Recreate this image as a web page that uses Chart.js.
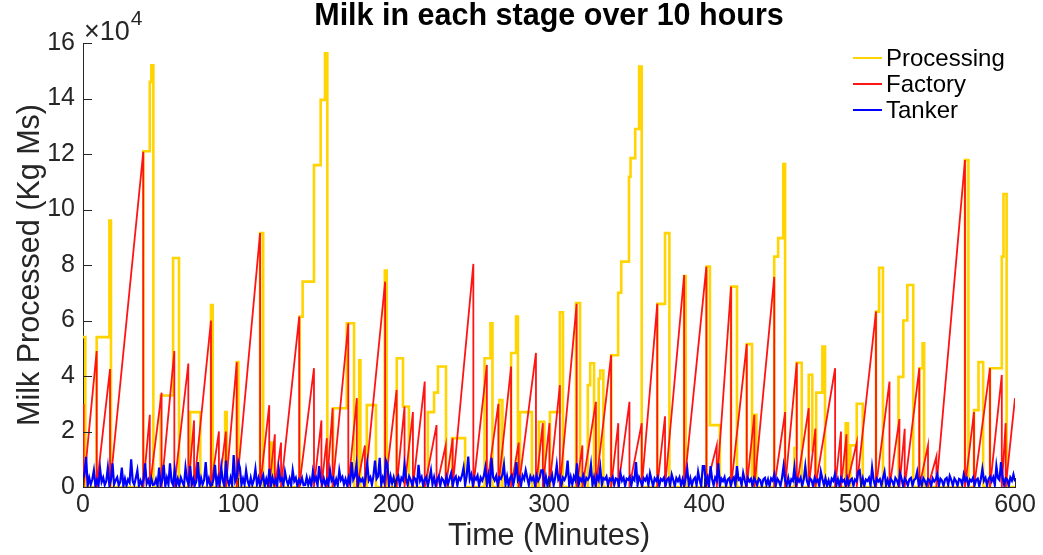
<!DOCTYPE html>
<html>
<head>
<meta charset="utf-8">
<title>Milk in each stage over 10 hours</title>
<script src="https://cdn.jsdelivr.net/npm/chart.js@4.4.1/dist/chart.umd.min.js"></script>
<style>
  html, body { margin: 0; padding: 0; background: #fff; }
  #wrap { width: 1043px; height: 555px; }
</style>
</head>
<body>
<div id="wrap"><canvas id="milkChart"></canvas></div>
<script>
// Text
const chartTitle = 'Milk in each stage over 10 hours';
const xTitle = 'Time (Minutes)';
const yTitle = 'Milk Processed (Kg Ms)';
const seriesNames = ['Processing', 'Factory', 'Tanker'];
const seriesColors = ['#FFD400', '#FF1414', '#0000FF'];

// Tick values
const xTicks = [0, 100, 200, 300, 400, 500, 600];
const yTicks = [0, 20000, 40000, 60000, 80000, 100000, 120000, 140000, 160000];

// Processing: step changes (minute, kg held from that minute on)
const processingT = [
  0, 1.5,
  8.8, 17, 18,
  38.8, 43, 44, 45.3,
  50, 58, 61.8,
  69, 75.5,
  82.4, 83.5,
  91.5, 92.5,
  99, 100,
  114, 116,
  121, 122.5,
  139.5, 141.4, 148.7, 153, 155.8, 157.3,
  161, 169.8, 174.5,
  177.8, 178.6,
  182.7, 188.6,
  194.3, 195.5,
  202, 206, 209.8,
  222, 226, 228.5, 233.7,
  237.6, 246,
  258.5, 262.3, 263.6,
  268, 270,
  275.6, 278.8, 280,
  281.3, 289,
  293.5, 297,
  300.6, 307, 309,
  317.4, 320,
  325, 326.5, 329,
  332, 333, 335,
  340, 344.5, 346.5, 351.5, 352.5, 355.5, 358, 359.7,
  369.7, 374.7, 377.5,
  387, 388,
  401.5, 403.6, 410,
  417.2, 421,
  427.3, 430.7,
  432.2, 433.5,
  445, 447.5, 450.8, 452,
  458, 459.5, 462.7,
  467.2, 469.5, 471.5,
  472, 476, 477.7,
  491, 492.5,
  494, 498.1, 502,
  510.5, 512.5, 515,
  525, 528.1, 530.7, 534.5,
  538.4, 540.5, 541.5,
  567.8, 570,
  573.6, 576.5, 579.5,
  583.9, 591.5, 592.6, 594.6,
  600
];
const processingV = [
  54000, 0,
  54000, 96000, 0,
  121000, 146000, 152000, 0,
  33000, 82500, 0,
  27000, 0,
  65600, 0,
  27000, 0,
  45000, 0,
  91500, 0,
  16000, 0,
  61400, 74000, 116000, 139500, 156300, 0,
  28400, 59000, 0,
  45700, 0,
  29500, 0,
  78000, 0,
  46400, 29000, 0,
  27000, 34000, 43400, 0,
  17600, 0,
  46400, 59000, 0,
  31300, 0,
  48300, 61400, 0,
  27000, 0,
  23500, 0,
  27000, 63000, 0,
  66300, 0,
  36700, 44600, 0,
  39000, 42000, 0,
  47500, 70000, 81200, 111800, 118500, 129000, 151500, 0,
  66000, 91500, 0,
  76000, 0,
  79400, 22300, 0,
  72200, 0,
  51500, 0,
  26000, 0,
  83000, 89700, 116400, 0,
  14000, 44800, 0,
  40400, 13300, 0,
  34000, 50600, 0,
  23000, 0,
  15000, 30000, 0,
  63200, 79000, 0,
  39700, 60000, 72800, 0,
  42800, 51800, 0,
  117800, 0,
  27700, 45000, 0,
  42800, 83000, 105600, 0,
  0
];

// Factory: minute at which each fill peaks, and the peak (emptied right after)
const factoryT = [
  0.4, 8.8, 17.4, 38.8, 43, 50.6, 58.8, 67.8, 71.5, 82.4,
  87.5, 92, 99, 114, 119.9, 123.5, 127.5, 139.2, 148.7, 153.5,
  157, 160.7, 170.8, 176.3, 181.5, 194.5, 201.9, 207, 212.4, 220,
  227.6, 233.5, 238, 251.3, 260, 267.4, 275.6, 280.5, 291.6, 296,
  300.3, 307, 317.8, 321.5, 330.2, 340, 344.6, 351.8, 359.7, 369.7,
  374.7, 387, 401.3, 408, 417.2, 427.3, 432.2, 445, 452, 459.5,
  467.2, 471.5, 484.2, 488, 491.5, 498.1, 510.5, 519.2, 525.6, 529,
  538.4, 544, 549.4, 567.8, 573.6, 583.9, 591.5, 594, 600
];
const factoryV = [
  30000, 49000, 42500, 120800, 26000, 34000, 49000, 44500, 24000, 60000,
  20000, 20000, 45000, 91500, 29500, 19000, 16000, 61400, 42800, 24000,
  17600, 28400, 59000, 32000, 15000, 74000, 35000, 29000, 27000, 38000,
  22300, 15000, 17600, 80400, 44000, 30000, 43400, 16000, 48300, 23000,
  23000, 36700, 66000, 15000, 30700, 47500, 23000, 30700, 23000, 66000,
  25500, 76400, 79400, 15000, 72200, 51500, 26000, 75700, 27000, 44800,
  28400, 21000, 42800, 20000, 19000, 16000, 63200, 38000, 24500, 21000,
  42800, 15000, 11000, 117800, 27000, 42800, 40400, 23000, 32000
];

// Tanker: one reading per minute, minutes 0..600
const tankerV = [
  2600, 5200, 10900, 400, 3300, 900, 2800, 6000, 300, 2500, 600, 6500, 1800, 3400, 700, 2200, 7000, 500, 2600, 8500,
  900, 2400, 3500, 600, 1900, 7000, 300, 3000, 500, 2700, 1600, 10000, 2100, 800, 3200, 6000, 400, 2300, 700, 2900,
  8500, 1200, 2600, 500, 3100, 700, 900, 2800, 400, 7000, 600, 2400, 8000, 300, 3300, 900, 8500, 2000, 700, 6000,
  500, 2900, 600, 3400, 1800, 400, 7000, 2500, 800, 7500, 700, 3000, 600, 2200, 9000, 400, 3200, 900, 2600, 9000,
  1100, 3100, 500, 700, 2800, 8000, 500, 3400, 900, 7000, 2300, 300, 9500, 2600, 800, 3300, 600, 11500, 2100, 3500,
  9000, 7000, 800, 3000, 900, 6000, 2200, 400, 3300, 700, 2600, 6500, 900, 3200, 500, 2500, 4200, 300, 2900, 800,
  6500, 600, 3400, 1100, 2700, 400, 6500, 2300, 3100, 500, 5500, 2500, 800, 3000, 600, 6000, 2100, 3300, 400, 2600,
  1400, 3200, 600, 700, 3500, 800, 2900, 400, 5500, 2200, 3400, 500, 7500, 2700, 900, 3100, 700, 2600, 800, 6000,
  2300, 3300, 500, 2800, 600, 6000, 2500, 3600, 900, 2900, 700, 3400, 1200, 9000, 2700, 3900, 8000, 500, 3200, 2100,
  3000, 600, 3700, 8500, 2400, 3500, 800, 4100, 9500, 2900, 3800, 10500, 700, 3400, 1600, 9500, 8000, 600, 3900, 1300,
  3500, 800, 2900, 4000, 500, 3300, 2400, 8000, 3100, 700, 3800, 2600, 400, 3400, 2900, 600, 8000, 2300, 3600, 500,
  2800, 3700, 400, 3000, 6000, 900, 3500, 500, 2700, 3900, 400, 3200, 2400, 700, 3600, 1000, 3100, 5000, 400, 2900,
  3800, 600, 3300, 2500, 4200, 7000, 800, 3900, 11000, 2800, 4500, 600, 3600, 2700, 4100, 500, 3400, 2300, 3900, 7000,
  900, 4300, 700, 10500, 3600, 2400, 4000, 600, 3500, 2900, 4400, 8000, 900, 3800, 500, 3300, 4200, 800, 3700, 9000,
  2400, 3500, 600, 4100, 2800, 6000, 3300, 700, 3900, 2500, 3600, 500, 4000, 2200, 3400, 6000, 6000, 800, 3700, 500,
  3200, 2300, 4300, 600, 3500, 8000, 2700, 3900, 500, 3400, 2600, 4100, 9500, 700, 3600, 900, 3800, 2400, 8500, 600,
  3100, 2200, 4000, 500, 3300, 2600, 3700, 8000, 700, 3500, 400, 3900, 2500, 7000, 800, 3200, 2700, 3800, 500, 3000,
  2400, 3600, 700, 3100, 2800, 500, 5000, 2300, 3400, 400, 3000, 2600, 3700, 600, 3300, 2500, 9000, 700, 3500, 2200,
  400, 3200, 2400, 3800, 600, 5000, 2600, 300, 3100, 2200, 3600, 500, 2900, 2300, 3400, 300, 2700, 3300, 600, 4500,
  2500, 300, 3200, 2100, 3500, 600, 2800, 400, 3300, 6500, 700, 3100, 500, 2700, 3400, 600, 5500, 2400, 300, 7500,
  7500, 800, 3300, 400, 7500, 2900, 600, 3400, 2300, 8500, 500, 3000, 2100, 3500, 300, 2700, 3200, 600, 2500, 3400,
  500, 7500, 2600, 3100, 600, 5000, 2400, 300, 3300, 2000, 2900, 400, 3200, 2200, 600, 3000, 2500, 300, 2800, 3300,
  700, 2700, 300, 3100, 2300, 4500, 500, 3000, 2100, 400, 3200, 7500, 2400, 600, 3300, 400, 2800, 2200, 7000, 500,
  3000, 2000, 3400, 400, 2700, 7500, 2300, 500, 3100, 2500, 300, 3300, 1900, 2600, 400, 5500, 2900, 700, 3200, 500,
  2400, 300, 3000, 2200, 4500, 600, 2800, 400, 3200, 2000, 2600, 300, 3100, 800, 2500, 3000, 400, 2700, 2100, 5500,
  6000, 700, 3100, 400, 2700, 2200, 3300, 500, 7000, 2400, 300, 3000, 2000, 2800, 500, 3200, 5500, 600, 2600, 300,
  3000, 2100, 500, 3300, 2400, 600, 5000, 2900, 300, 3100, 2200, 500, 2800, 3300, 400, 2500, 3000, 5500, 700, 2700,
  500, 3200, 2200, 600, 2900, 2400, 300, 3100, 2000, 2700, 4500, 500, 3000, 2300, 400, 2800, 3300, 700, 4000, 2500,
  500, 3100, 2200, 400, 2900, 2600, 700, 4500, 2300, 3200, 400, 2700, 2100, 3400, 600, 2500, 3000, 300, 2800, 6500,
  2200, 3300, 500, 2900, 3800, 2100, 3500, 700, 7500, 3200, 2500, 9000, 3600, 800, 3100, 2700, 400, 3400, 2300, 4500,
  2000
];

// Build point lists for the library
const processingPoints = processingT.map((t, i) => ({ x: t, y: processingV[i] }));

const factoryPoints = [{ x: 0, y: 0 }];
factoryT.forEach((t, i) => {
  factoryPoints.push({ x: t, y: factoryV[i] });
  if (i < factoryT.length - 1) factoryPoints.push({ x: t, y: 0 }); // tank emptied
});

const tankerPoints = tankerV.map((v, i) => ({ x: i, y: v }));

Chart.defaults.font.family = '"Liberation Sans", Arial, Helvetica, sans-serif';
Chart.defaults.color = '#262626';

// Inner tick marks, title, x10^4 factor and the legend
const decorations = {
  id: 'decorations',
  afterDraw(chart) {
    const { ctx, chartArea: a, scales: { x, y } } = chart;
    ctx.save();

    ctx.strokeStyle = '#262626';
    ctx.lineWidth = 1;
    ctx.beginPath();
    yTicks.forEach(v => {
      const py = Math.round(y.getPixelForValue(v)) + 0.5;
      ctx.moveTo(a.left, py);
      ctx.lineTo(a.left + 9, py);
    });
    xTicks.forEach(v => {
      const px = Math.round(x.getPixelForValue(v)) + 0.5;
      ctx.moveTo(px, a.bottom);
      ctx.lineTo(px, a.bottom - 9);
    });
    ctx.stroke();

    ctx.fillStyle = '#000';
    ctx.font = 'bold 30.5px "Liberation Sans", Arial, sans-serif';
    ctx.textAlign = 'center';
    ctx.textBaseline = 'middle';
    ctx.fillText(chartTitle, (a.left + a.right) / 2, 17);

    ctx.fillStyle = '#262626';
    ctx.textAlign = 'left';
    ctx.textBaseline = 'alphabetic';
    ctx.font = '27px "Liberation Sans", Arial, sans-serif';
    ctx.fillText('\u00D710', a.left + 1, 40);
    const w = ctx.measureText('\u00D710').width;
    ctx.font = '21px "Liberation Sans", Arial, sans-serif';
    ctx.fillText('4', a.left + 2 + w, 25);

    ctx.font = '24px "Liberation Sans", Arial, sans-serif';
    ctx.textBaseline = 'middle';
    chart.data.datasets.forEach((ds, i) => {
      const ly = 58 + i * 26;
      ctx.strokeStyle = ds.borderColor;
      ctx.lineWidth = 2;
      ctx.beginPath();
      ctx.moveTo(853, ly);
      ctx.lineTo(882, ly);
      ctx.stroke();
      ctx.fillStyle = '#000';
      ctx.fillText(ds.label, 886, ly + 1);
    });

    ctx.restore();
  }
};

const ctxMilk = document.getElementById('milkChart').getContext('2d');
new Chart(ctxMilk, {
  type: 'line',
  data: {
    datasets: [
      {
        label: seriesNames[0],
        data: processingPoints,
        borderColor: seriesColors[0],
        borderWidth: 2.6,
        stepped: 'before',
        order: 3
      },
      {
        label: seriesNames[1],
        data: factoryPoints,
        borderColor: seriesColors[1],
        borderWidth: 1.8,
        order: 2
      },
      {
        label: seriesNames[2],
        data: tankerPoints,
        borderColor: seriesColors[2],
        borderWidth: 2.2,
        order: 1
      }
    ]
  },
  options: {
    responsive: true,
    maintainAspectRatio: false,
    animation: false,
    parsing: false,
    normalized: true,
    elements: {
      point: { radius: 0, hoverRadius: 0 },
      line: { tension: 0, fill: false }
    },
    layout: { padding: { top: 43, right: 28, left: 0, bottom: 0 } },
    plugins: {
      legend: { display: false },
      tooltip: { enabled: false },
      title: { display: false }
    },
    scales: {
      x: {
        type: 'linear',
        min: 0,
        max: 600,
        afterFit: s => { s.height = 68; },
        afterBuildTicks: s => { s.ticks = xTicks.map(v => ({ value: v })); },
        grid: { display: false, drawTicks: false },
        border: { display: true, color: '#262626', width: 1 },
        ticks: { font: { size: 25 }, color: '#262626', padding: 3, maxRotation: 0 },
        title: { display: true, text: xTitle, font: { size: 30.5 }, color: '#262626', padding: { top: 0, bottom: 0 } }
      },
      y: {
        type: 'linear',
        min: 0,
        max: 160000,
        afterFit: s => { s.width = 83; },
        afterBuildTicks: s => { s.ticks = yTicks.map(v => ({ value: v })); },
        grid: { display: false, drawTicks: false },
        border: { display: true, color: '#262626', width: 1 },
        ticks: { font: { size: 25 }, color: '#262626', padding: 8, callback: v => v / 10000 },
        title: { display: true, text: yTitle, font: { size: 30.5 }, color: '#262626', padding: { top: 12, bottom: 0 } }
      }
    }
  },
  plugins: [decorations]
});
</script>
</body>
</html>
